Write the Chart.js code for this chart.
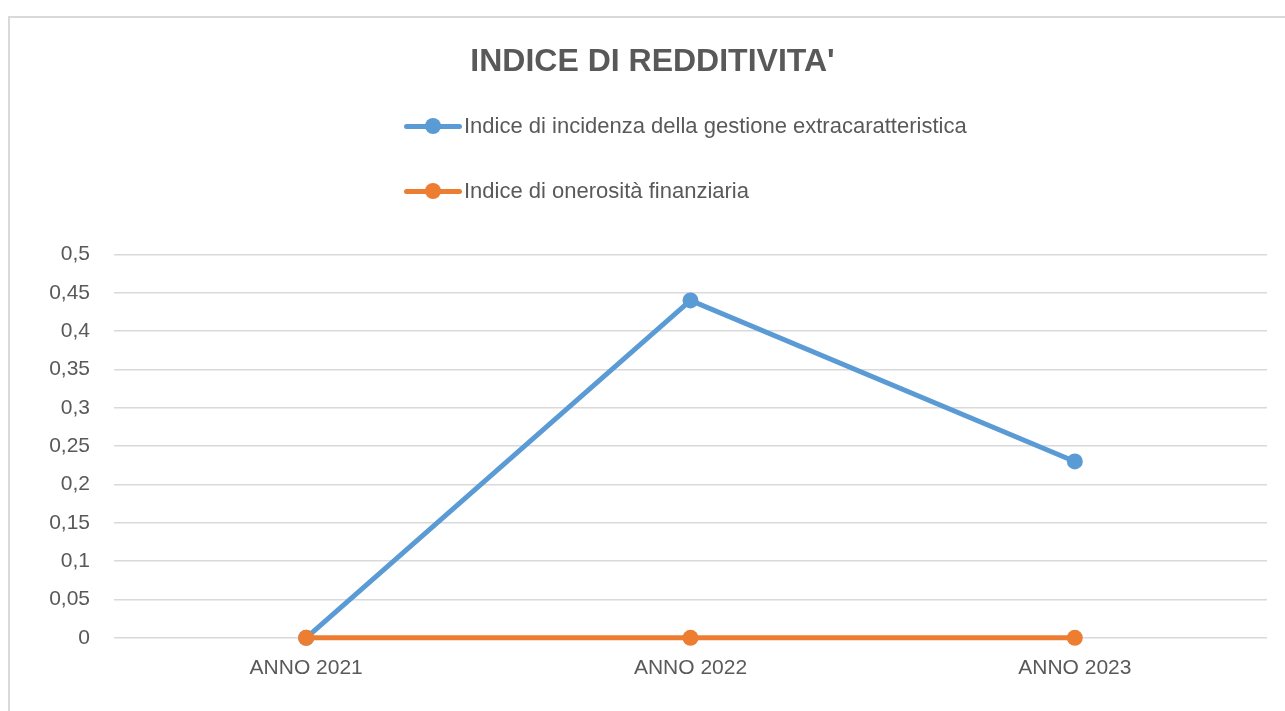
<!DOCTYPE html>
<html lang="it">

<head>
    <meta charset="UTF-8">
    <title>Indice di redditivita'</title>
    <style>
        body {
            margin: 0;
            overflow: hidden;
            background: #fff;
            font-family: "Liberation Sans", Arial, sans-serif;
        }

        #frame {
            position: absolute;
            left: 8px;
            top: 16px;
            width: 1300px;
            height: 720px;
            border: 2px solid #d9d9d9;
            background: #fff;
        }

        #chart {
            position: absolute;
            left: 0;
            top: 0;
        }

        #legend {
            position: absolute;
            left: 394px;
            top: 75px;
        }

        .legend-row {
            display: flex;
            align-items: center;
            height: 65px;
            font-size: 22px;
            color: #595959;
        }

        .legend-swatch {
            position: relative;
            width: 58px;
            height: 20px;
            margin-right: 2px;
        }

        .legend-swatch .bar {
            position: absolute;
            left: 0;
            right: 0;
            top: 8px;
            height: 5px;
            border-radius: 3px;
        }

        .legend-swatch .dot {
            position: absolute;
            left: 21px;
            top: 2px;
            width: 16px;
            height: 16px;
            border-radius: 50%;
        }
    </style>
    <script src="https://cdn.jsdelivr.net/npm/chart.js"></script>
</head>

<body>
    <div id="frame">
        <canvas id="chart" width="1280" height="693"></canvas>
        <div id="legend"></div>
    </div>

    <script>
        const categories = ['ANNO 2021', 'ANNO 2022', 'ANNO 2023'];
        const seriesNames = [
            'Indice di incidenza della gestione extracaratteristica',
            'Indice di onerosità finanziaria'
        ];
        const incidenzaValues = [0, 0.44, 0.23];
        const onerositaValues = [0, 0, 0];
        const yTickLabels = ['0', '0,05', '0,1', '0,15', '0,2', '0,25', '0,3', '0,35', '0,4', '0,45', '0,5'];

        const blue = '#5b9bd5';
        const orange = '#ed7d31';
        const textColor = '#595959';
        const fontFamily = '"Liberation Sans", Arial, sans-serif';

        const datasets = [
            {
                label: seriesNames[0],
                data: incidenzaValues,
                borderColor: blue,
                backgroundColor: blue,
                clip: false,
                order: 1
            },
            {
                label: seriesNames[1],
                data: onerositaValues,
                borderColor: orange,
                backgroundColor: orange,
                clip: false,
                order: 0
            }
        ];

        // legend as html, two stacked rows like the original
        const legendDiv = document.getElementById('legend');
        datasets.forEach(ds => {
            const row = document.createElement('div');
            row.className = 'legend-row';
            row.innerHTML = '<div class="legend-swatch"><div class="bar" style="background:' + ds.borderColor +
                '"></div><div class="dot" style="background:' + ds.borderColor + '"></div></div>';
            const span = document.createElement('span');
            span.textContent = ds.label;
            row.appendChild(span);
            legendDiv.appendChild(row);
        });

        new Chart(document.getElementById('chart'), {
            type: 'line',
            data: {
                labels: categories,
                datasets: datasets
            },
            options: {
                responsive: false,
                animation: false,
                layout: {
                    padding: { left: 28, right: 23, top: 0, bottom: 20 }
                },
                elements: {
                    line: { borderWidth: 5, tension: 0, borderCapStyle: 'round' },
                    point: { radius: 8, hoverRadius: 8, borderWidth: 0 }
                },
                plugins: {
                    legend: { display: false },
                    tooltip: { enabled: false },
                    title: {
                        display: true,
                        text: "INDICE DI REDDITIVITA'",
                        color: textColor,
                        font: { family: fontFamily, size: 32, weight: 'bold' },
                        padding: { top: 25, bottom: 173 }
                    }
                },
                scales: {
                    x: {
                        offset: true,
                        grid: { display: false },
                        border: { display: false },
                        ticks: {
                            color: textColor,
                            font: { family: fontFamily, size: 21 },
                            padding: 10,
                            maxRotation: 0
                        }
                    },
                    y: {
                        min: 0,
                        max: 0.5,
                        afterFit: scale => { scale.width = 76; },
                        grid: { color: '#d9d9d9', lineWidth: 1.5, drawTicks: false },
                        border: { display: false },
                        ticks: {
                            stepSize: 0.05,
                            color: textColor,
                            font: { family: fontFamily, size: 21 },
                            padding: 24,
                            callback: (value, index) => yTickLabels[index]
                        }
                    }
                }
            }
        });
    </script>
</body>

</html>
